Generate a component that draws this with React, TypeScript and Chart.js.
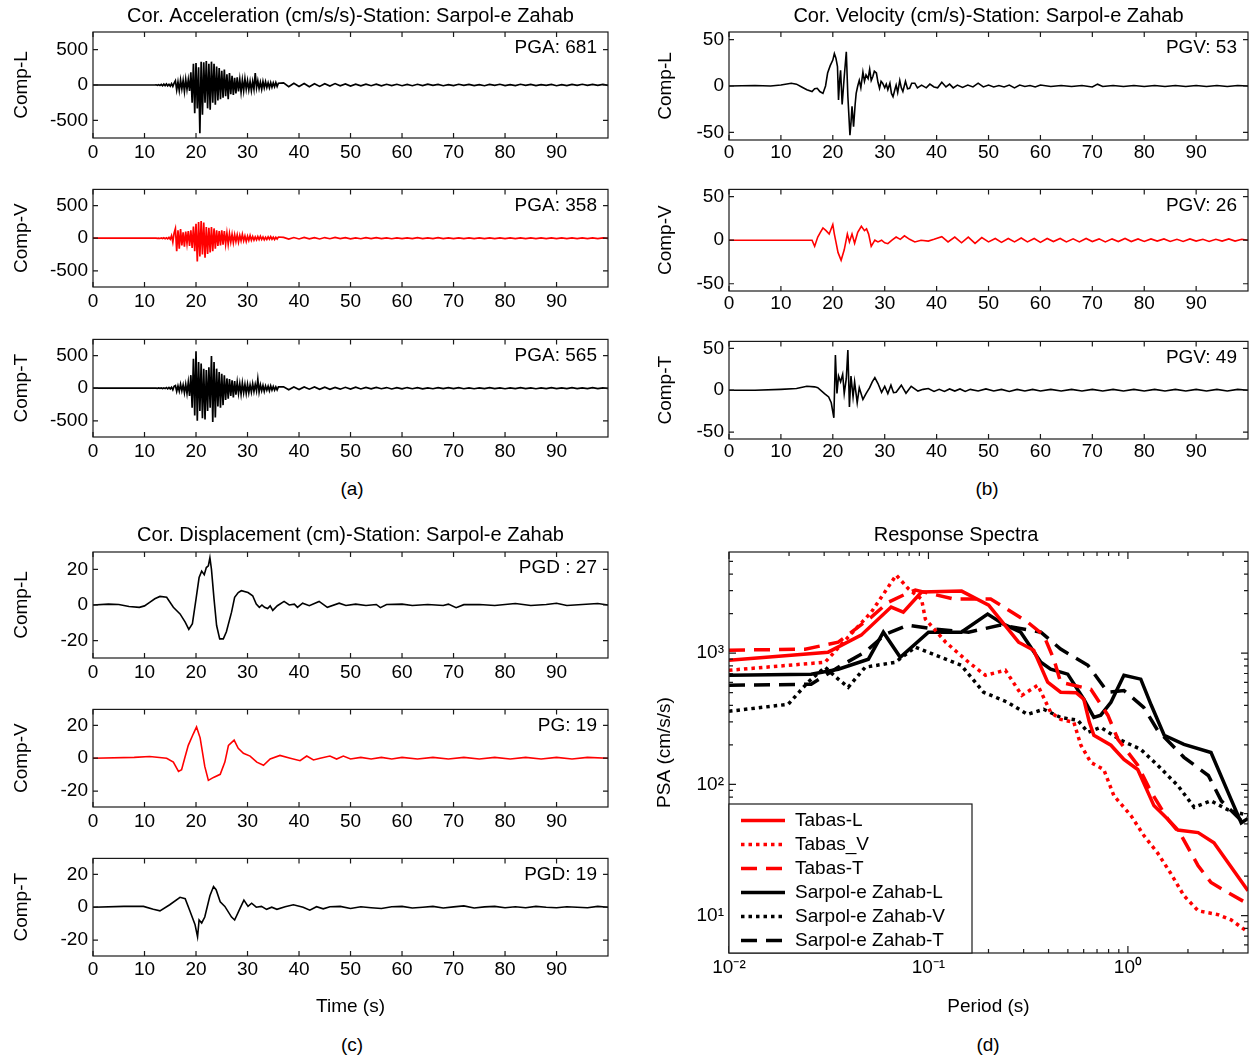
import React, { useEffect, useRef } from 'react';
import { Chart, registerables } from 'chart.js';

Chart.register(...registerables);

const FONT = '"Liberation Sans", Arial, Helvetica, sans-serif';
Chart.defaults.font.family = FONT;
Chart.defaults.color = '#000';

// ---------------- DATA ----------------
const TIME_MAX = 99.99;
const timeTickValues = [0, 10, 20, 30, 40, 50, 60, 70, 80, 90];
const accTickValues = [-500, 0, 500];
const velTickValues = [-50, 0, 50];
const dispTickValues = [-20, 0, 20];

// Acceleration (cm/s/s): dense samples 12 s..36 s every 0.25 s, then tail 37 s..100 s every 1 s
const ACC_FINE_START = 12;
const ACC_FINE_STEP = 0.25;
const ACC_TAIL_START = 37;
const ACC_TAIL_STEP = 1;

const accLFine = [
  0, 3, -4, 5, -6,
  8, -10, 12, -9, 14, -12, 10, -15, 18, -20, 25,
  60, -70, 45, -80, 70, -55, 65, -90, 80, -60, 75, -85,
  180, -250, 300, -400,
  310, -333, 250, -681,
  330, -420, 320, -250,
  340, -330, 300, -350,
  330, -250, 300, -280,
  260, -220, 240, -200,
  200, -180, 220, -160,
  150, -200, 170, -130,
  130, -140, 100, -120,
  110, -90, 80, -100,
  70, -80, 90, -60,
  60, -70, 50, -80,
  50, -60, 170, -40,
  60, -50, 40, -60,
  50, -40, 45, -35,
  30, -40, 35, -30,
  30, -25, 35, -20, 25,
];
const accLTail = [
  30, -25, 25, -20, 22, -25, 18, -20,
  18, -15, 20, -12, 15, -16, 12, -12,
  12, -10, 12, -12, 10, -8, 10, -10,
  8, -10, 10, -8, 12, -6, 8, -10,
  6, -8, 10, -6, 8, -8, 6, -10,
  8, -6, 10, -8, 6, -8, 10, -6,
  8, -8, 6, -6, 8, -10, 6, -8,
  8, -6, 10, -6, 8, -6, 8, -5,
];
const accVFine = [
  0, 2, -3, 2, -4,
  4, -5, 6, -8, 7, -10, 12, -15, 40, -60, 80,
  148, -200, 120, -160, 140, -110, 90, -130, 100, -80, 110, -120,
  120, -150, 180, -200,
  220, -358, 250, -280,
  265, -250, 240, -300,
  170, -240, 160, -220,
  170, -200, 150, -160,
  120, -120, 110, -110,
  120, -100, 110, -90,
  80, -90, 70, -60,
  60, -70, 55, -50,
  50, -60, 45, -40,
  60, -40, 35, -50,
  30, -35, 40, -30,
  25, -30, 20, -25,
  25, -20, 30, -20,
  20, -25, 15, -20,
  20, -15, 25, -15,
  15, -20, 15, -12, 18,
];
const accVTail = [
  12, -15, 10, -12, 12, -10, 8, -12,
  10, -8, 12, -6, 8, -10, 6, -8,
  8, -6, 10, -5, 6, -8, 5, -6,
  6, -5, 8, -6, 5, -6, 8, -5,
  5, -6, 6, -5, 6, -5, 5, -6,
  6, -5, 5, -6, 5, -5, 6, -5,
  5, -5, 6, -5, 5, -6, 5, -5,
  5, -6, 5, -5, 6, -5, 5, -4,
];
const accTFine = [
  0, 2, -2, 3, -3,
  4, -5, 5, -6, 8, -10, 12, -10, 15, -25, 30,
  40, -50, 35, -45, 60, -40, 50, -70, 60, -80, 90, -120,
  200, -300, 450, -420,
  565, -500, 400, -350,
  380, -460, 300, -480,
  280, -350, 320, -300,
  495, -520, 400, -450,
  300, -280, 250, -300,
  220, -260, 200, -180,
  150, -160, 140, -120,
  120, -140, 110, -100,
  90, -80, 70, -90,
  80, -70, 60, -80,
  60, -70, 50, -60,
  70, -50, 60, -40,
  140, -60, 50, -40,
  40, -50, 35, -30,
  30, -40, 35, -30,
  25, -30, 20, -25, 20,
];
const accTTail = [
  22, -25, 18, -20, 20, -15, 18, -18,
  15, -16, 12, -15, 14, -12, 15, -12,
  12, -10, 12, -8, 10, -12, 8, -10,
  10, -8, 8, -10, 6, -8, 10, -6,
  8, -6, 8, -8, 6, -8, 6, -6,
  8, -6, 6, -8, 6, -6, 8, -6,
  6, -8, 6, -6, 8, -6, 6, -6,
  8, -6, 6, -6, 8, -6, 6, -5,
];

// Velocity (cm/s): [time s, value]
const velL = [
  [0, 0], [5, 0.5], [8, 0], [10, 1], [12, 3], [13, 2], [14, -1], [15, -4], [16, -6], [16.5, -3], [17, -2.5],
  [17.5, -6], [18.1, -8], [18.6, 0], [19, 14], [19.5, 22], [20, 28], [20.3, 35], [20.6, 30], [20.9, 21],
  [21.1, -15], [21.3, 5], [21.5, 17], [21.8, -20], [22, -5], [22.2, 10], [22.6, 37], [22.9, -11], [23.3, -53],
  [23.5, -40], [23.7, -22], [24, -44], [24.3, -20], [24.5, -8], [24.8, 0], [25.1, 6], [25.4, -2], [25.8, 15],
  [26.1, 5], [26.4, 12], [26.8, 8], [27.1, 18], [27.4, 6], [27.7, 10], [28, 16], [28.4, 14], [28.7, 4],
  [29, -2.5], [29.3, 5], [29.6, 3], [30, -2], [30.3, 2], [30.6, -4], [31, 3], [31.3, -8], [31.6, -11.5],
  [32, -3], [32.2, 1], [32.5, -7], [32.9, 6], [33.2, -2], [33.5, -6], [34, 5], [34.4, -3], [34.8, -2.5],
  [35.2, 3], [35.8, 3], [36.3, -2], [37.1, 1], [38, -2], [38.7, 2], [39.5, -1], [40.2, -2], [41, 4], [41.8, -1],
  [42.5, 2], [43.2, -2], [44, 1], [45, -1.5], [46, 1], [47, -1], [48, 3], [49, -1], [50, 1], [51, -1],
  [52, 0.5], [53, -1], [54, 1], [55, -2], [56, 1], [57, -0.5], [58, 0.5], [59, -1], [60, 1], [62, -0.5],
  [64, 0.5], [66, -0.5], [68, 0.5], [70, -1], [71, 2], [72, -0.5], [74, 0.5], [76, -0.5], [78, 0.5],
  [80, -0.5], [82, 0.5], [84, -0.5], [86, 0.5], [88, -0.5], [90, 0.5], [92, -0.5], [94, 0.5], [96, -0.5],
  [98, 0.5], [100, 0],
];
const velV = [
  [0, 0], [10, 0], [14, 0], [16, 0], [16.5, -7], [17.1, 3.6], [17.6, 9], [18.1, 14], [18.7, 11], [19.3, 7],
  [20, 18], [20.3, 7], [20.6, -2], [21, -14], [21.6, -23], [22.2, -11], [22.8, 7], [23.2, -2], [23.7, 7],
  [24.2, -3.6], [24.8, 9], [25.5, 16], [26.1, 11], [26.5, 13], [26.9, 7], [27.4, -7], [28.1, 0], [28.7, -2],
  [29.4, 0], [30, -3], [30.6, -4], [31.4, 0], [32.2, 3.6], [33, 1], [33.8, 5], [34.8, 1], [35.8, -2], [37, 0],
  [38.4, -1], [39.5, 1], [41, 4], [42.2, -2], [43.5, 3.6], [44.8, -3], [46.1, 3.6], [47.4, -3.6], [48.7, 3],
  [50, -2], [51.3, 2], [52.5, -2.5], [53.8, 2], [55, -2], [56.3, 2.5], [57.5, -2], [58.8, 2], [60, -2.5],
  [61.3, 2], [62.5, -1.5], [63.8, 2], [65, -2], [66.3, 1.5], [67.5, -2], [68.8, 2], [70, -1.5], [71.3, 1.5],
  [72.5, -2], [73.8, 1.5], [75, -1.5], [76.3, 2], [77.5, -1.5], [78.8, 1.5], [80, -1.5], [81.3, 1.5],
  [82.5, -1], [83.8, 1.5], [85, -1.5], [86.3, 1], [87.5, -1.5], [88.8, 1.5], [90, -1], [91.3, 1], [92.5, -1.5],
  [93.8, 1], [95, -1], [96.3, 1.5], [97.5, -1], [98.8, 1], [100, 0],
];
const velT = [
  [0, 0], [5, 0], [10, 1], [13, 2], [15, 4.7], [16.5, 4], [17.1, 3], [18.4, -4], [19.2, -8], [19.7, -15],
  [20.2, -33], [20.5, 42], [20.8, -4], [21.1, 17], [21.5, 10], [21.9, 19], [22.2, -4], [22.6, 14], [22.9, 48],
  [23.2, -20], [23.5, 17], [23.9, -8], [24.2, 10], [24.7, -15], [25.1, 3], [25.8, -11], [26.4, -4], [27.1, 3],
  [27.6, 10], [28.1, 15], [28.7, 8], [29.4, -2.5], [30, 4.7], [30.6, -4], [31.2, 6], [31.7, -3], [32.2, -2.5],
  [33.2, 6], [34.1, -3.6], [35.1, 4.7], [36.4, -1], [37.4, 1], [38.4, 2], [39.5, -1.5], [40.5, 1], [41.5, -1.5],
  [42.5, 1.5], [43.5, -1], [44.5, 1.5], [45.5, -1.5], [46.5, 1], [48, -1], [49.5, 1.5], [51, -1], [52.5, 1],
  [54, -1.5], [55.5, 1], [57, -1], [58.5, 1], [60, -1], [62, 1], [64, -1], [66, 1], [68, -1], [70, 1], [72, -1],
  [74, 1], [76, -1], [78, 1], [80, -1], [82, 1], [84, -1], [86, 1], [88, -1], [90, 1], [92, -1], [94, 1],
  [96, -1], [98, 1], [100, 0],
];

// Displacement (cm): [time s, value]
const dispL = [
  [0, 0], [3, 0.5], [5, 0.3], [7, -0.8], [9, -1.3], [10, -0.5], [11, 1.5], [12, 3.5], [13, 4.8], [14.3, 4.3],
  [15.6, -1.3], [16.9, -5], [17.9, -9.6], [18.6, -13.7], [19.3, -10.5], [20, 3.3], [20.6, 15.4], [21.1, 19],
  [21.6, 17], [22, 21], [22.4, 22], [22.7, 26.5], [23, 20], [23.5, 3.3], [24, -11.5], [24.6, -19], [25.3, -19],
  [25.9, -15], [26.9, -4], [27.5, 4.3], [28.2, 7], [28.8, 8], [30.1, 7], [31, 5.2], [31.7, 0.5], [32.3, -1.3],
  [32.8, 0], [33.3, -1.3], [33.9, -2], [34.4, -0.5], [34.9, -3], [35.8, -0.4], [37.1, 2], [38.1, 0], [39.1, 0.5],
  [39.7, -1.3], [40.7, 1], [42, -0.4], [43.9, 2], [45.5, -1.3], [47.8, 1], [49.1, -0.3], [51, 0.5], [53, -0.3],
  [55, 0.3], [55.8, -1.5], [57, 0.3], [60, 0.5], [62, -0.3], [65, 0.3], [68, -0.3], [69, 0.5], [70.5, -1.5],
  [72, 0.2], [75, 0.3], [78, -0.3], [82, 0.8], [85, -0.3], [88, 0.3], [90, 1], [92, -0.3], [95, 0.3], [98, 0.8],
  [100, 0],
];
const dispV = [
  [0, 0], [8, 0.5], [11, 1], [14.3, 0], [15.6, -2.4], [16.6, -8], [17.2, -7], [17.8, 0], [18.5, 7.8], [19.5, 15],
  [20.1, 19], [20.8, 12.4], [21.7, -5], [22.4, -13.5], [23.4, -11.7], [24.7, -9.8], [25.6, -2.4], [26.3, 7.8],
  [27.4, 11], [28.2, 6], [29.2, 3], [30.5, 1.3], [31.8, -2.4], [33.1, -4.3], [34.4, -0.5], [36.3, 1.7], [38.3, 0],
  [40.2, -1.5], [41.5, 1.3], [42.8, -1.1], [44.1, 0], [46, 1.3], [47.3, -0.5], [48.6, 1.3], [50, -0.5], [52, 0.5],
  [54, -0.5], [56, 0.5], [58, -0.5], [60, 0.5], [63, -0.5], [66, 0.5], [69, -0.5], [72, 0.5], [75, -0.5],
  [78, 0.5], [81, -0.5], [84, 0.5], [87, -0.5], [90, 0.5], [93, -0.5], [96, 0.5], [100, 0],
];
const dispT = [
  [0, 0], [6, 0.5], [9.8, 0.5], [11.7, -1.3], [13, -2.2], [14.9, 1.5], [16.9, 6], [17.9, 5.2], [18.8, -2.2],
  [19.8, -10.5], [20.3, -18], [20.6, -7.8], [21.1, -9.6], [21.7, -6], [22.7, 7], [23.4, 12.6], [23.9, 10.7],
  [24.7, 3.3], [25.6, 0.5], [26.9, -6], [27.5, -7.8], [28.5, -1], [29.3, 4.3], [30.1, 0.5], [30.8, 2.4],
  [31.7, 0], [32.7, 0.5], [33.7, -1.3], [34.7, 0], [35.7, -1.3], [37.3, 0.3], [38.9, 1.5], [40.8, 0],
  [42.1, -1.8], [43.4, 0.3], [44.7, -1], [46, 0.3], [48, 0.5], [50, -0.8], [52, 0.3], [54, -0.3], [56, -0.8],
  [58, 0.3], [60, 0.5], [62, -0.5], [64, 0], [66, 0.5], [68, -0.5], [70, 0.2], [72, 0.8], [74, -0.5], [76, 0.2],
  [78, 0.5], [80, -0.3], [82, 0.3], [84, -0.3], [86, 0.5], [88, 0], [90, -0.3], [92, 0.3], [94, 0], [96, -0.3],
  [98, 0.5], [100, 0],
];

// Response spectra: [period s, PSA cm/s/s]
const tabasL = [
  [0.01, 885], [0.0314, 1018], [0.046, 1372], [0.065, 2245], [0.0748, 2054], [0.0923, 2925], [0.1466, 2972],
  [0.2004, 2323], [0.283, 1213], [0.337, 1054], [0.396, 601], [0.46, 504], [0.55, 500], [0.601, 446],
  [0.64, 300], [0.675, 237], [0.822, 199], [0.955, 155], [1.12, 130], [1.35, 69], [1.59, 54], [1.78, 45],
  [2.25, 43], [2.7, 36], [4.0, 15.5],
];
const tabasV = [
  [0.01, 741], [0.0303, 853], [0.0383, 1257], [0.0517, 2054], [0.0689, 3936], [0.0795, 3083], [0.0923, 2583],
  [0.0965, 1819], [0.122, 1213], [0.159, 853], [0.193, 679], [0.243, 741], [0.294, 477], [0.353, 570],
  [0.41, 355], [0.46, 313], [0.536, 297], [0.581, 199], [0.652, 147], [0.757, 130], [0.851, 82], [1.035, 58],
  [1.2, 41], [1.41, 30], [1.64, 21], [1.91, 14.2], [2.25, 10.9], [2.83, 10.2], [3.29, 9.3], [4.0, 7.5],
];
const tabasT = [
  [0.01, 1054], [0.0241, 1073], [0.0353, 1213], [0.0517, 1884], [0.063, 2449], [0.0767, 2820], [0.086, 3026],
  [0.134, 2583], [0.205, 2583], [0.23, 2323], [0.314, 1725], [0.378, 1372], [0.425, 900], [0.46, 601],
  [0.652, 531], [0.793, 337], [0.891, 221], [1.12, 140], [1.31, 87], [1.59, 54], [1.85, 41], [2.25, 24],
  [2.61, 17.9], [3.18, 15], [4.0, 12.3],
];
const sarpolL = [
  [0.01, 679], [0.0258, 692], [0.0353, 755], [0.05, 900], [0.0594, 1446], [0.0722, 931], [0.1, 1446],
  [0.146, 1446], [0.198, 1987], [0.238, 1664], [0.29, 1446], [0.366, 853], [0.41, 755], [0.499, 692],
  [0.601, 446], [0.675, 324], [0.731, 337], [0.822, 423], [0.955, 679], [1.16, 634], [1.31, 401], [1.52, 237],
  [1.91, 202], [2.61, 175], [3.29, 77], [3.7, 51], [4.0, 55],
];
const sarpolV = [
  [0.01, 361], [0.0198, 408], [0.0249, 601], [0.0303, 782], [0.0353, 634], [0.0396, 550], [0.0482, 782],
  [0.0683, 853], [0.086, 1111], [0.146, 809], [0.189, 504], [0.249, 423], [0.314, 342], [0.378, 374],
  [0.46, 324], [0.561, 308], [0.63, 250], [0.731, 272], [0.923, 217], [1.16, 185], [1.41, 140], [1.78, 98],
  [2.15, 67], [2.61, 75], [3.18, 64], [4.0, 58],
];
const sarpolT = [
  [0.01, 570], [0.0258, 580], [0.0353, 782], [0.048, 1018], [0.061, 1397], [0.079, 1636], [0.108, 1525],
  [0.159, 1446], [0.23, 1636], [0.366, 1446], [0.46, 1074], [0.63, 809], [0.793, 504], [0.955, 520],
  [1.2, 387], [1.41, 258], [1.91, 161], [2.53, 117], [2.94, 75], [3.7, 53], [4.0, 50],
];

const spectraLabels = ['Tabas-L', 'Tabas_V', 'Tabas-T', 'Sarpol-e Zahab-L', 'Sarpol-e Zahab-V', 'Sarpol-e Zahab-T'];
const periodTickValues = [0.01, 0.1, 1];
const periodTickLabels = ['10\u207B\u00B2', '10\u207B\u00B9', '10\u2070'];
const psaTickValues = [10, 100, 1000];
const psaTickLabels = ['10\u00B9', '10\u00B2', '10\u00B3'];

// ---------------- HELPERS ----------------
type Pt = { x: number; y: number };
const uniformPoints = (start: number, step: number, values: number[]): Pt[] =>
  values.map((v, i) => ({ x: Math.round((start + i * step) * 1000) / 1000, y: v }));
const pairPoints = (pairs: number[][]): Pt[] => pairs.map(([x, y]) => ({ x, y }));
const accPoints = (fine: number[], tail: number[]): Pt[] => [
  { x: 0, y: 0 },
  ...uniformPoints(ACC_FINE_START, ACC_FINE_STEP, fine),
  ...uniformPoints(ACC_TAIL_START, ACC_TAIL_STEP, tail),
];

const TICK_FONT = { family: FONT, size: 19 };
const LABEL_FONT = { family: FONT, size: 19 };
const TITLE_FONT = { family: FONT, size: 20, weight: 'normal' as const };
const RED = '#ff0000';
const BLACK = '#000000';

function drawLegend(chart: any, cfg: any) {
  const { ctx, chartArea: a } = chart;
  const x0 = a.left;
  const y0 = a.bottom - cfg.height;
  ctx.save();
  ctx.fillStyle = '#ffffff';
  ctx.fillRect(x0, y0, cfg.width, cfg.height);
  ctx.strokeStyle = '#1a1a1a';
  ctx.lineWidth = 1.2;
  ctx.strokeRect(x0, y0, cfg.width, cfg.height);
  chart.data.datasets.forEach((ds: any, i: number) => {
    const y = y0 + cfg.firstRow + i * cfg.rowGap;
    ctx.save();
    ctx.strokeStyle = ds.borderColor;
    ctx.lineWidth = ds.borderWidth;
    ctx.setLineDash(ds.borderDash || []);
    ctx.beginPath();
    ctx.moveTo(x0 + 12, y);
    ctx.lineTo(x0 + 56, y);
    ctx.stroke();
    ctx.restore();
    ctx.fillStyle = '#000';
    ctx.font = `19px ${FONT}`;
    ctx.textAlign = 'left';
    ctx.textBaseline = 'middle';
    ctx.fillText(ds.label, x0 + 66, y);
  });
  ctx.restore();
}

function logMinorValues(min: number, max: number): number[] {
  const out: number[] = [];
  for (let d = Math.floor(Math.log10(min)); d <= Math.ceil(Math.log10(max)); d++) {
    for (let k = 2; k <= 9; k++) {
      const v = k * Math.pow(10, d);
      if (v > min && v < max) out.push(v);
    }
  }
  return out;
}

const boxPlugin = {
  id: 'mbox',
  afterDatasetsDraw(chart: any, _args: any, opts: any) {
    const { ctx, chartArea: a, scales } = chart;
    const xs = scales.x;
    const ys = scales.y;
    ctx.save();
    if (opts.note) {
      ctx.fillStyle = '#000';
      ctx.font = `19px ${FONT}`;
      ctx.textAlign = 'right';
      ctx.textBaseline = 'middle';
      ctx.fillText(opts.note, a.right - 11, a.top + 16);
    }
    ctx.strokeStyle = '#1a1a1a';
    ctx.lineWidth = 1.2;
    ctx.strokeRect(a.left, a.top, a.right - a.left, a.bottom - a.top);
    const L = opts.tickLen || 5;
    ctx.beginPath();
    xs.ticks.forEach((t: any) => {
      const p = xs.getPixelForValue(t.value);
      ctx.moveTo(p, a.bottom); ctx.lineTo(p, a.bottom - L);
      ctx.moveTo(p, a.top); ctx.lineTo(p, a.top + L);
    });
    ys.ticks.forEach((t: any) => {
      const p = ys.getPixelForValue(t.value);
      ctx.moveTo(a.left, p); ctx.lineTo(a.left + L, p);
      ctx.moveTo(a.right, p); ctx.lineTo(a.right - L, p);
    });
    if (opts.minorLen) {
      const m = opts.minorLen;
      logMinorValues(xs.min, xs.max).forEach((v) => {
        const p = xs.getPixelForValue(v);
        ctx.moveTo(p, a.bottom); ctx.lineTo(p, a.bottom - m);
        ctx.moveTo(p, a.top); ctx.lineTo(p, a.top + m);
      });
      logMinorValues(ys.min, ys.max).forEach((v) => {
        const p = ys.getPixelForValue(v);
        ctx.moveTo(a.left, p); ctx.lineTo(a.left + m, p);
        ctx.moveTo(a.right, p); ctx.lineTo(a.right - m, p);
      });
    }
    ctx.stroke();
    ctx.restore();
    if (opts.legend) drawLegend(chart, opts.legend);
  },
};

// ---------------- SUBPLOT SPECS ----------------
type TimeSpec = {
  key: string;
  left: number; top: number; width: number; height: number;
  axisW: number; padR: number; padT: number; axisH: number;
  xPad: number; yTitlePad: number;
  yMax: number; yTicks: number[];
  color: string; lineW: number; points: Pt[];
  yTitle: string; note: string;
  title?: string; titlePad?: [number, number];
  xTitle?: string; xTitlePad?: number;
};

const LEFT_COL = { left: 0, width: 612, axisW: 93, padR: 4, yTitlePad: 10.6 };
const RIGHT_COL = { left: 640, width: 610, axisW: 89, padR: 2, yTitlePad: 14.6 };
const ACC_MAX = 749;
const VEL_MAX = 58.3;
const DISP_MAX = 29.7;

const timeSpecs: TimeSpec[] = [
  { key: 'a1', ...LEFT_COL, top: 0, height: 168, padT: 0, axisH: 30, xPad: 3, yMax: ACC_MAX, yTicks: accTickValues, color: BLACK, lineW: 1.7,
    points: accPoints(accLFine, accLTail), yTitle: 'Comp-L', note: 'PGA: 681',
    title: 'Cor. Acceleration (cm/s/s)-Station: Sarpol-e Zahab', titlePad: [4, 4] },
  { key: 'a2', ...LEFT_COL, top: 173, height: 144, padT: 8, axisH: 30, xPad: 3, yMax: ACC_MAX, yTicks: accTickValues, color: RED, lineW: 1.7,
    points: accPoints(accVFine, accVTail), yTitle: 'Comp-V', note: 'PGA: 358' },
  { key: 'a3', ...LEFT_COL, top: 323, height: 144, padT: 8, axisH: 30, xPad: 3, yMax: ACC_MAX, yTicks: accTickValues, color: BLACK, lineW: 1.7,
    points: accPoints(accTFine, accTTail), yTitle: 'Comp-T', note: 'PGA: 565' },
  { key: 'b1', ...RIGHT_COL, top: 0, height: 170, padT: 0, axisH: 30, xPad: 1, yMax: VEL_MAX, yTicks: velTickValues, color: BLACK, lineW: 1.6,
    points: pairPoints(velL), yTitle: 'Comp-L', note: 'PGV: 53',
    title: 'Cor. Velocity (cm/s)-Station: Sarpol-e Zahab', titlePad: [4, 4] },
  { key: 'b2', ...RIGHT_COL, top: 173, height: 148, padT: 8, axisH: 30, xPad: 1, yMax: VEL_MAX, yTicks: velTickValues, color: RED, lineW: 1.6,
    points: pairPoints(velV), yTitle: 'Comp-V', note: 'PGV: 26' },
  { key: 'b3', ...RIGHT_COL, top: 325, height: 144, padT: 8, axisH: 30, xPad: 1, yMax: VEL_MAX, yTicks: velTickValues, color: BLACK, lineW: 1.6,
    points: pairPoints(velT), yTitle: 'Comp-T', note: 'PGV: 49' },
  { key: 'c1', ...LEFT_COL, top: 520, height: 168, padT: 0, axisH: 30, xPad: 3, yMax: DISP_MAX, yTicks: dispTickValues, color: BLACK, lineW: 1.6,
    points: pairPoints(dispL), yTitle: 'Comp-L', note: 'PGD : 27',
    title: 'Cor. Displacement (cm)-Station: Sarpol-e Zahab', titlePad: [3, 5] },
  { key: 'c2', ...LEFT_COL, top: 693, height: 144, padT: 8, axisH: 30, xPad: 3, yMax: DISP_MAX, yTicks: dispTickValues, color: RED, lineW: 1.6,
    points: pairPoints(dispV), yTitle: 'Comp-V', note: 'PG: 19' },
  { key: 'c3', ...LEFT_COL, top: 842, height: 178, padT: 8, axisH: 64, xPad: 2, yMax: DISP_MAX, yTicks: dispTickValues, color: BLACK, lineW: 1.6,
    points: pairPoints(dispT), yTitle: 'Comp-T', note: 'PGD: 19', xTitle: 'Time (s)', xTitlePad: 2 },
];

function timeConfig(s: TimeSpec): any {
  return {
    type: 'line',
    data: {
      datasets: [{ data: s.points, borderColor: s.color, borderWidth: s.lineW, pointRadius: 0, tension: 0, fill: false }],
    },
    options: {
      responsive: false, maintainAspectRatio: false, animation: false, devicePixelRatio: 1, events: [],
      layout: { padding: { top: s.padT, right: s.padR, left: 0, bottom: 0 } },
      plugins: {
        legend: { display: false },
        tooltip: { enabled: false },
        title: s.title
          ? { display: true, text: s.title, color: '#000', font: TITLE_FONT, fullSize: false,
              padding: { top: s.titlePad![0], bottom: s.titlePad![1] } }
          : { display: false },
        mbox: { tickLen: 5, note: s.note },
      },
      scales: {
        x: {
          type: 'linear', min: 0, max: TIME_MAX,
          grid: { display: false, drawTicks: false }, border: { display: false },
          afterBuildTicks: (sc: any) => { sc.ticks = timeTickValues.map((v) => ({ value: v })); },
          ticks: { padding: s.xPad, color: '#000', font: TICK_FONT, maxRotation: 0, autoSkip: false,
                   callback: (v: number) => String(v) },
          title: s.xTitle
            ? { display: true, text: s.xTitle, color: '#000', font: LABEL_FONT, padding: { top: 0, bottom: s.xTitlePad } }
            : { display: false },
          afterFit: (sc: any) => { sc.height = s.axisH; },
        },
        y: {
          type: 'linear', min: -s.yMax, max: s.yMax,
          grid: { display: false, drawTicks: false }, border: { display: false },
          afterBuildTicks: (sc: any) => { sc.ticks = s.yTicks.map((v) => ({ value: v })); },
          ticks: { padding: 5, color: '#000', font: TICK_FONT, callback: (v: number) => String(v) },
          title: { display: true, text: s.yTitle, color: '#000', font: LABEL_FONT, padding: { top: s.yTitlePad, bottom: 0 } },
          afterFit: (sc: any) => { sc.width = s.axisW; },
        },
      },
    },
    plugins: [boxPlugin],
  };
}

const spectraSeries = [
  { data: tabasL, color: RED, dash: [] as number[] },
  { data: tabasV, color: RED, dash: [3.5, 4] },
  { data: tabasT, color: RED, dash: [16, 9] },
  { data: sarpolL, color: BLACK, dash: [] as number[] },
  { data: sarpolV, color: BLACK, dash: [3.5, 4] },
  { data: sarpolT, color: BLACK, dash: [16, 9] },
];

function spectraConfig(): any {
  return {
    type: 'line',
    data: {
      datasets: spectraSeries.map((s, i) => ({
        label: spectraLabels[i], data: pairPoints(s.data), borderColor: s.color, borderDash: s.dash,
        borderWidth: 3.5, pointRadius: 0, tension: 0, fill: false, borderCapStyle: 'butt',
      })),
    },
    options: {
      responsive: false, maintainAspectRatio: false, animation: false, devicePixelRatio: 1, events: [],
      layout: { padding: { top: 0, right: 2, left: 24, bottom: 0 } },
      plugins: {
        legend: { display: false },
        tooltip: { enabled: false },
        title: { display: true, text: 'Response Spectra', color: '#000', font: TITLE_FONT, fullSize: true,
                 padding: { top: 3, bottom: 5 } },
        mbox: { tickLen: 7, minorLen: 4, legend: { width: 243, height: 149, firstRow: 16.5, rowGap: 24 } },
      },
      scales: {
        x: {
          type: 'logarithmic', min: 0.01, max: 4,
          grid: { display: false, drawTicks: false }, border: { display: false },
          afterBuildTicks: (sc: any) => { sc.ticks = periodTickValues.map((v) => ({ value: v })); },
          ticks: { padding: 3, color: '#000', font: TICK_FONT, maxRotation: 0, autoSkip: false,
                   callback: (v: number) => periodTickLabels[periodTickValues.indexOf(v)] ?? '' },
          title: { display: true, text: 'Period (s)', color: '#000', font: LABEL_FONT, padding: { top: 0, bottom: 2 } },
          afterFit: (sc: any) => { sc.height = 67; },
        },
        y: {
          type: 'logarithmic', min: 5.2, max: 5900,
          grid: { display: false, drawTicks: false }, border: { display: false },
          afterBuildTicks: (sc: any) => { sc.ticks = psaTickValues.map((v) => ({ value: v })); },
          ticks: { padding: 5, color: '#000', font: TICK_FONT, autoSkip: false,
                   callback: (v: number) => psaTickLabels[psaTickValues.indexOf(v)] ?? '' },
          title: { display: true, text: 'PSA (cm/s/s)', color: '#000', font: LABEL_FONT, padding: { top: -10.4, bottom: 0 } },
          afterFit: (sc: any) => { sc.width = 65; },
        },
      },
    },
    plugins: [boxPlugin],
  };
}

function ChartBox({ left, top, width, height, build }: { left: number; top: number; width: number; height: number; build: () => any }) {
  const ref = useRef<HTMLCanvasElement>(null);
  useEffect(() => {
    const chart = new Chart(ref.current as HTMLCanvasElement, build());
    return () => chart.destroy();
  }, []);
  return (
    <canvas ref={ref} width={width} height={height}
      style={{ position: 'absolute', left, top, width, height, display: 'block' }} />
  );
}

const panelLabels = [
  { text: '(a)', x: 352, y: 489 },
  { text: '(b)', x: 987, y: 489 },
  { text: '(c)', x: 352, y: 1045 },
  { text: '(d)', x: 988, y: 1045 },
];

export default function App() {
  return (
    <div style={{ position: 'absolute', left: 0, top: 0, width: 1250, height: 1061, background: '#fff', overflow: 'hidden', fontFamily: FONT }}>
      {timeSpecs.map((s) => (
        <ChartBox key={s.key} left={s.left} top={s.top} width={s.width} height={s.height} build={() => timeConfig(s)} />
      ))}
      <ChartBox left={640} top={520} width={610} height={500} build={spectraConfig} />
      {panelLabels.map((p) => (
        <div key={p.text} style={{ position: 'absolute', left: p.x, top: p.y, transform: 'translate(-50%, -50%)', fontSize: 19, color: '#000', whiteSpace: 'nowrap' }}>
          {p.text}
        </div>
      ))}
    </div>
  );
}
